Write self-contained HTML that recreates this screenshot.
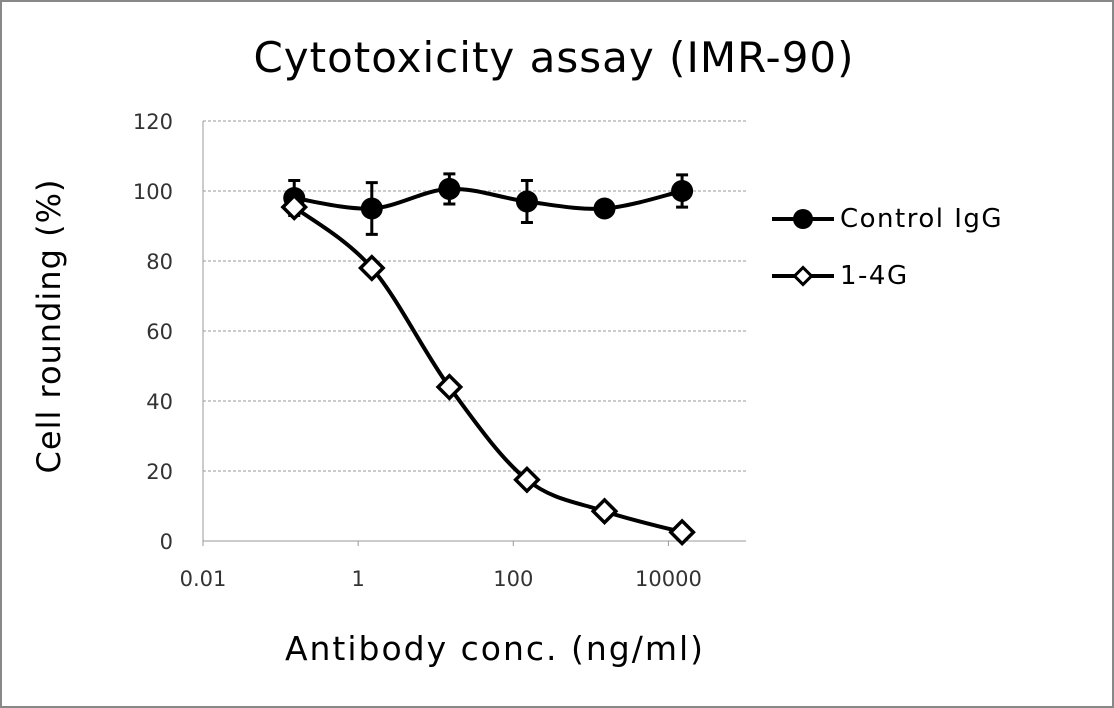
<!DOCTYPE html>
<html><head><meta charset="utf-8"><style>
body{margin:0;background:#fff;}
svg{display:block;font-family:"DejaVu Sans","Liberation Sans",sans-serif;}
</style></head><body>
<svg id="c" width="1114" height="708">
<rect x="1" y="1" width="1112" height="706" fill="#fff" stroke="#888" stroke-width="2"/>
<text x="554" y="72" font-size="42" letter-spacing="1" text-anchor="middle">Cytotoxicity assay (IMR-90)</text>
<text x="0" y="0" font-size="32" letter-spacing="1" text-anchor="middle" transform="translate(60,326) rotate(-90)">Cell rounding (%)</text>
<text x="495" y="660" font-size="33" letter-spacing="2" text-anchor="middle">Antibody conc. (ng/ml)</text>
<g id="grid"></g><g id="marks"></g>
<g>
<g>
<line x1="772" y1="219" x2="834" y2="219" stroke="#000" stroke-width="4"/>
<circle cx="803" cy="219" r="10" fill="#000"/>
<text x="840" y="227" font-size="26" letter-spacing="1.5">Control IgG</text></g>
<g>
<line x1="772" y1="276" x2="834" y2="276" stroke="#000" stroke-width="4"/>
<rect x="797" y="270" width="12" height="12" fill="#fff" stroke="#000" stroke-width="3" transform="rotate(45 803 276)"/>
<text x="840" y="284" font-size="26" letter-spacing="1.5">1-4G</text></g>
</g>
</svg>
<script>
const conc=[0.15,1.5,15,150,1500,15000];
const controlVals=[98,95,100.6,97,95,100];
const controlErr=[5,7.4,4.3,6,1.5,4.6];
const g14Vals=[95.4,78,44,17.5,8.5,2.5];
const yTicks=[0,20,40,60,80,100,120];
const xTicks=[0.01,1,100,10000];
const xTickLabels=["0.01","1","100","10000"];
const NS="http://www.w3.org/2000/svg";
const X0=203,X1=746,Y0=541,Y1=121;
const xs=v=>X0+(Math.log10(v)+2)/7*(X1-X0);
const ys=v=>Y0-v/120*(Y0-Y1);
function mk(t,a,p){const e=document.createElementNS(NS,t);for(const k in a)e.setAttribute(k,a[k]);p.appendChild(e);return e;}
const grid=document.getElementById('grid'),marks=document.getElementById('marks');
yTicks.forEach(v=>{
 if(v>0){const l=mk('line',{x1:X0,x2:X1,y1:ys(v),y2:ys(v),stroke:'#999','stroke-width':1,'stroke-dasharray':'3,2'},grid);
 
 }
 const t=mk('text',{x:X0-30,y:ys(v)+8,'font-size':21,'text-anchor':'end',fill:'#333'},grid);t.textContent=v;
 
 
});
const ax=mk('line',{x1:X0,x2:X0,y1:Y1,y2:Y0,stroke:'#999','stroke-width':1},grid);


const bx=mk('line',{x1:X0,x2:X1,y1:Y0,y2:Y0,stroke:'#999','stroke-width':1},grid);


xTicks.forEach((v,i)=>{
 mk('line',{x1:xs(v),x2:xs(v),y1:Y0,y2:Y0+5,stroke:'#999'},grid);
 const t=mk('text',{x:xs(v),y:Y0+45,'font-size':21,'text-anchor':'middle',fill:'#333'},grid);t.textContent=xTickLabels[i];
 
 
});
function smooth(pts){let d='M'+pts[0][0]+','+pts[0][1];
 for(let i=0;i<pts.length-1;i++){const p0=pts[Math.max(0,i-1)],p1=pts[i],p2=pts[i+1],p3=pts[Math.min(pts.length-1,i+2)];
 d+=' C'+(p1[0]+(p2[0]-p0[0])/6)+','+(p1[1]+(p2[1]-p0[1])/6)+' '+(p2[0]-(p3[0]-p1[0])/6)+','+(p2[1]-(p3[1]-p1[1])/6)+' '+p2[0]+','+p2[1];}
 return d;}
const cp=conc.map((c,i)=>[xs(c),ys(controlVals[i])]);
const gp=conc.map((c,i)=>[xs(c),ys(g14Vals[i])]);
const l1=mk('path',{d:smooth(gp),fill:'none',stroke:'#000','stroke-width':4},marks);


const l2=mk('path',{d:smooth(cp),fill:'none',stroke:'#000','stroke-width':4},marks);


conc.forEach((c,i)=>{
 const x=xs(c),yt=ys(controlVals[i]+controlErr[i]),yb=ys(controlVals[i]-controlErr[i]);
 const e=mk('path',{d:`M${x},${yt}V${yb}M${x-6},${yt}H${x+6}M${x-6},${yb}H${x+6}`,stroke:'#000','stroke-width':3,fill:'none'},marks);
 
 
 const p=mk('circle',{cx:x,cy:ys(controlVals[i]),r:11,fill:'#000'},marks);
 
 
});
conc.forEach((c,i)=>{
 const x=xs(c),y=ys(g14Vals[i]);
 const r=mk('rect',{x:x-8,y:y-8,width:16,height:16,fill:'#fff',stroke:'#000','stroke-width':3.5,transform:`rotate(45 ${x} ${y})`},marks);
 
 
});
</script>
</body></html>
